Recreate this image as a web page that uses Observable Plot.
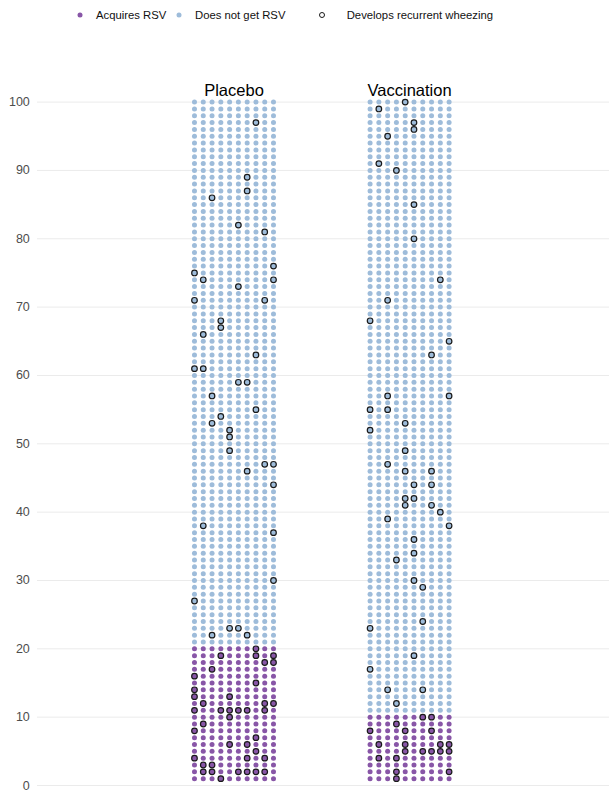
<!DOCTYPE html>
<html>
<head>
<meta charset="utf-8">
<script src="https://cdn.jsdelivr.net/npm/d3@7"></script>
<script src="https://cdn.jsdelivr.net/npm/@observablehq/plot@0.6"></script>
<style>
  html, body { margin: 0; padding: 0; background: #fff; }
  #wrap { position: relative; width: 609px; height: 792px; font-family: "Liberation Sans", Arial, sans-serif; }
  #legend { position: absolute; left: 0; top: 0; width: 609px; height: 30px; font-size: 11.3px; color: #111; }
  #legend .sw { position: absolute; top: 9px; }
  #legend .lb { position: absolute; top: 7.5px; white-space: nowrap; line-height: 14px; }
  #chart { position: absolute; left: 0; top: 0; }
</style>
</head>
<body>
<div id="wrap">
  <div id="chart"></div>
  <div id="legend"></div>
</div>
<script>
// ---- data ----
const groups = ["Placebo", "Vaccination"];
const rsvRows = [20, 10];           // rows of 10 children who acquire RSV, per group
const nRows = 100;
const nCols = 10;
const statuses = ["Acquires RSV", "Does not get RSV"];
const statusColors = ["#8856a7", "#9ebcda"];
const wheezeLabel = "Develops recurrent wheezing";
const yTicks = [0, 10, 20, 30, 40, 50, 60, 70, 80, 90, 100];

// [row, column] of children who develop recurrent wheezing
const placeboWheeze = [
  [97,8],[89,7],[87,7],[86,3],[82,6],[81,9],[76,10],[75,1],[74,2],[74,10],[73,6],
  [71,1],[71,9],[68,4],[67,4],[66,2],[63,8],[61,1],[61,2],[59,6],[59,7],[57,3],
  [55,8],[54,4],[53,3],[52,5],[51,5],[49,5],[47,9],[47,10],[46,7],[44,10],[38,2],
  [37,10],[30,10],[27,1],[23,5],[23,6],[22,3],[22,7],[20,8],[19,4],[19,8],[19,10],
  [18,9],[18,10],[17,3],[16,1],[15,8],[14,1],[13,1],[13,5],[12,2],[12,9],[12,10],
  [11,1],[11,4],[11,5],[11,6],[11,7],[11,9],[10,5],[9,2],[8,1],[7,8],[6,5],[6,7],
  [5,8],[4,1],[4,7],[4,9],[3,2],[3,3],[2,2],[2,3],[2,6],[2,7],[2,8],[2,9],[1,4]
];
const vaccinationWheeze = [
  [100,5],[99,2],[97,6],[96,6],[95,3],[91,2],[90,4],[85,6],[80,6],[74,9],[71,3],
  [68,1],[65,10],[63,8],[57,3],[57,10],[55,1],[55,3],[53,5],[52,1],[49,5],[47,3],
  [46,5],[46,8],[44,6],[44,8],[42,5],[42,6],[41,5],[41,8],[40,9],[39,3],[38,10],
  [36,6],[34,6],[33,4],[30,6],[29,7],[24,7],[23,1],[19,6],[17,1],[14,3],[14,7],
  [12,4],[10,7],[10,8],[9,4],[8,1],[8,5],[8,8],[6,2],[6,5],[6,9],[6,10],[5,5],
  [5,7],[5,8],[5,9],[5,10],[4,2],[4,4],[2,4],[2,10],[1,4]
];
const wheezeByGroup = [placeboWheeze, vaccinationWheeze];

// ---- build cells ----
const groupGap = 20; // column offset between the two groups on the shared x scale
const cells = [];
groups.forEach((g, gi) => {
  const wset = new Set(wheezeByGroup[gi].map(([r, c]) => r + "-" + c));
  for (let r = 1; r <= nRows; r++) {
    for (let c = 1; c <= nCols; c++) {
      cells.push({
        group: g,
        x: c + gi * groupGap,
        row: r,
        status: r <= rsvRows[gi] ? statuses[0] : statuses[1],
        wheeze: wset.has(r + "-" + c)
      });
    }
  }
});
const titles = groups.map((g, gi) => ({ group: g, x: (1 + nCols) / 2 + gi * groupGap }));

// ---- chart ----
const chart = Plot.plot({
  width: 609,
  height: 792,
  marginLeft: 37,
  marginRight: 0,
  marginTop: 101.6,
  marginBottom: 7,
  style: { fontFamily: "'Liberation Sans', Arial, sans-serif", background: "#fff", overflow: "visible" },
  x: { domain: [-16.88, 48.27], axis: null },
  y: { domain: [0, 100], axis: null },
  color: { domain: statuses, range: statusColors },
  marks: [
    Plot.gridY(yTicks, { stroke: "#ebebeb", strokeOpacity: 1, strokeWidth: 1 }),
    Plot.axisY(yTicks, { tickSize: 0, tickPadding: 7.7, fontSize: 12.5, fill: "#4d4d4d", tickFormat: d => d, label: null }),
    Plot.dot(cells.filter(d => !d.wheeze), { x: "x", y: "row", r: 2.5, fill: "status", stroke: null }),
    Plot.dot(cells.filter(d => d.wheeze), { x: "x", y: "row", r: 2.8, fill: "status", stroke: "#1a1a1a", strokeWidth: 1.2 }),
    Plot.text(titles, { x: "x", y: () => 100, text: "group", lineAnchor: "bottom", dy: -6.6, fontSize: 16.5, fill: "#000" })
  ]
});
document.getElementById("chart").appendChild(chart);

// ---- legend ----
const legend = document.getElementById("legend");
const items = [
  { label: statuses[0], fill: statusColors[0], stroke: "none", sx: 80.3, tx: 96 },
  { label: statuses[1], fill: statusColors[1], stroke: "none", sx: 179, tx: 195 },
  { label: wheezeLabel, fill: "none", stroke: "#1a1a1a", sx: 321.7, tx: 346.7 }
];
items.forEach(it => {
  const sw = document.createElementNS("http://www.w3.org/2000/svg", "svg");
  sw.setAttribute("width", 12); sw.setAttribute("height", 12);
  sw.setAttribute("class", "sw");
  sw.style.left = (it.sx - 6) + "px";
  sw.style.top = (15 - 6) + "px";
  const c = document.createElementNS("http://www.w3.org/2000/svg", "circle");
  c.setAttribute("cx", 6); c.setAttribute("cy", 6); c.setAttribute("r", 2.5);
  c.setAttribute("fill", it.fill); c.setAttribute("stroke", it.stroke); c.setAttribute("stroke-width", 1);
  sw.appendChild(c);
  legend.appendChild(sw);
  const lb = document.createElement("span");
  lb.className = "lb";
  lb.textContent = it.label;
  lb.style.left = it.tx + "px";
  legend.appendChild(lb);
});
</script>
</body>
</html>
